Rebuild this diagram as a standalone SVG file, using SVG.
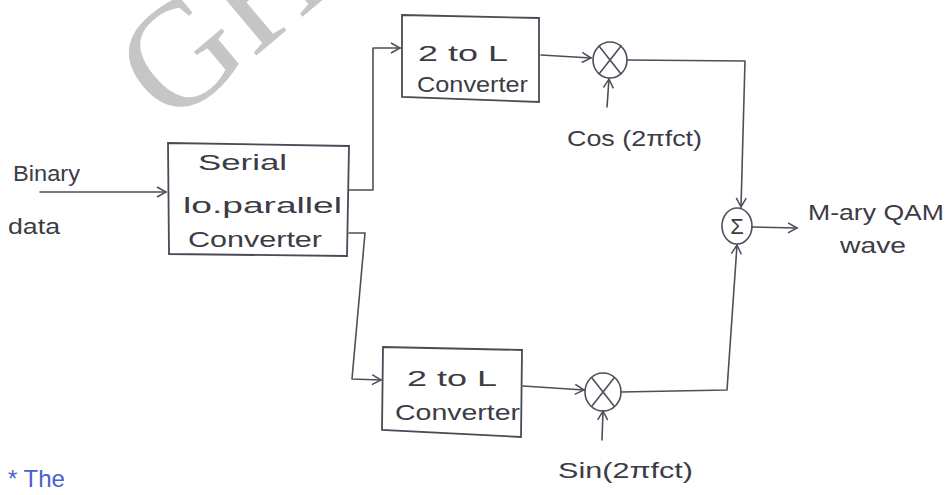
<svg xmlns="http://www.w3.org/2000/svg" width="948" height="495" viewBox="0 0 948 495">
  <style>
    .ln { fill: none; stroke: #4e4e5c; stroke-width: 1.6; stroke-linejoin: round; stroke-linecap: round; }
    .box { fill: none; stroke: #4a4a58; stroke-width: 1.8; }
    .hw { font-family: "Liberation Sans", "DejaVu Sans", sans-serif; fill: #3c3c46; font-size: 22px; }
    .blue { font-family: "Liberation Sans", "DejaVu Sans", sans-serif; fill: #4a5ed0; font-size: 24px; }
    .wm { font-family: "Liberation Serif", "DejaVu Serif", serif; fill: #c6c6c6; font-size: 150px; }
  </style>
  <defs>
    <marker id="arr" markerWidth="12" markerHeight="12" refX="10" refY="6" orient="auto" markerUnits="userSpaceOnUse">
      <path d="M1,1 L10,6 L1,11" fill="none" stroke="#4e4e5c" stroke-width="1.5"/>
    </marker>
  </defs>
  <rect width="948" height="495" fill="#ffffff"/>

  <!-- faint watermark -->
  <text class="wm" x="0" y="0" transform="translate(170,128) rotate(-40)">GH</text>

  <!-- connectors -->
  <g id="connectors">
    <path class="ln" d="M40,192 L166,192" marker-end="url(#arr)"/>
    <path class="ln" d="M349,190 L373,190 L373,48 L400,48" marker-end="url(#arr)"/>
    <path class="ln" d="M349,233 L365,233 L352,379 L381,380" marker-end="url(#arr)"/>
    <path class="ln" d="M541,55 L591,58" marker-end="url(#arr)"/>
    <path class="ln" d="M523,386 L584,390" marker-end="url(#arr)"/>
    <path class="ln" d="M607,107 L609,79" marker-end="url(#arr)"/>
    <path class="ln" d="M602,440 L603,411" marker-end="url(#arr)"/>
    <path class="ln" d="M627,60 L745,61 L741,207" marker-end="url(#arr)"/>
    <path class="ln" d="M621,392 L727,390 L737,245" marker-end="url(#arr)"/>
    <path class="ln" d="M752,227 L797,228" marker-end="url(#arr)"/>
  </g>

  <!-- input label -->
  <g id="input">
    <text class="hw" x="13" y="181" textLength="67" lengthAdjust="spacingAndGlyphs">Binary</text>
    <text class="hw" x="8" y="234" textLength="52" lengthAdjust="spacingAndGlyphs">data</text>
  </g>

  <g id="serial-to-parallel">
    <path class="box" d="M168,143 L349,146 L347,256 L169,254 Z"/>
    <text class="hw" x="198" y="170" textLength="89" lengthAdjust="spacingAndGlyphs">Serial</text>
    <text class="hw" x="183" y="213" textLength="159" lengthAdjust="spacingAndGlyphs">lo.parallel</text>
    <text class="hw" x="188" y="247" textLength="134" lengthAdjust="spacingAndGlyphs">Converter</text>
  </g>

  <g id="converter-upper">
    <path class="box" d="M402,15 L539,18 L539,102 L402,97 Z"/>
    <text class="hw" x="418" y="61" textLength="90" lengthAdjust="spacingAndGlyphs">2 to L</text>
    <text class="hw" x="417" y="92" textLength="111" lengthAdjust="spacingAndGlyphs">Converter</text>
  </g>

  <g id="converter-lower">
    <path class="box" d="M383,347 L522,350 L521,437 L382,430 Z"/>
    <text class="hw" x="407" y="386" textLength="90" lengthAdjust="spacingAndGlyphs">2 to L</text>
    <text class="hw" x="395" y="420" textLength="125" lengthAdjust="spacingAndGlyphs">Converter</text>
  </g>

  <g id="mixer-cos">
    <ellipse class="ln" cx="610" cy="60" rx="17" ry="18"/>
    <path class="ln" d="M599,46 L621,74 M621,46 L599,74"/>
    <text class="hw" x="567" y="146" textLength="135" lengthAdjust="spacingAndGlyphs">Cos (2πfct)</text>
  </g>

  <g id="mixer-sin">
    <ellipse class="ln" cx="603" cy="392" rx="18" ry="19"/>
    <path class="ln" d="M592,378 L614,406 M614,378 L592,406"/>
    <text class="hw" x="558" y="478" textLength="135" lengthAdjust="spacingAndGlyphs">Sin(2πfct)</text>
  </g>

  <g id="summer">
    <ellipse class="ln" cx="737" cy="226" rx="15" ry="18"/>
    <text class="hw" x="737" y="234" text-anchor="middle" font-size="22">Σ</text>
  </g>

  <g id="output">
    <text class="hw" x="808" y="220" textLength="136" lengthAdjust="spacingAndGlyphs">M-ary QAM</text>
    <text class="hw" x="840" y="253" textLength="66" lengthAdjust="spacingAndGlyphs">wave</text>
  </g>

  <text class="blue" x="8" y="487">* The</text>
</svg>
